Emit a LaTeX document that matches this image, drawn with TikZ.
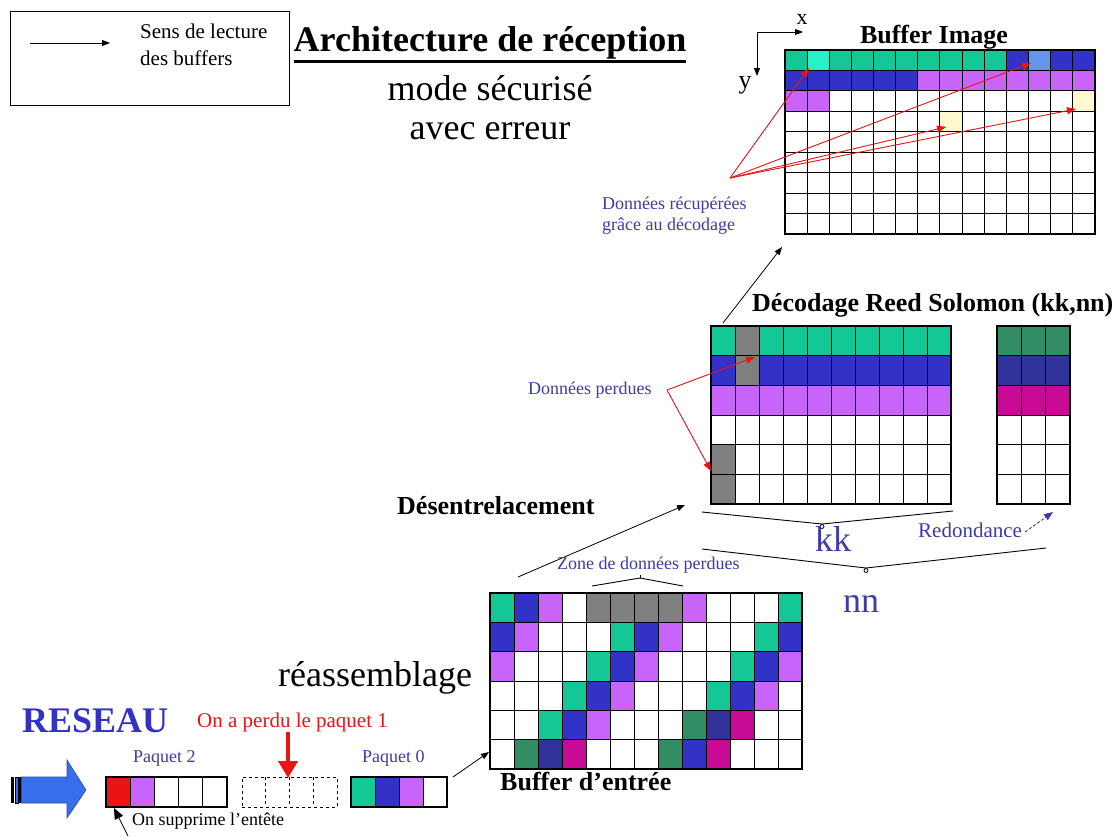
\documentclass[tikz,border=0pt]{standalone}
\usepackage{fontspec}
\setmainfont{Liberation Serif}
\usetikzlibrary{arrows.meta}

\definecolor{cgreen}{RGB}{20,200,150}
\definecolor{caqua}{RGB}{40,240,200}
\definecolor{cblue}{RGB}{50,50,200}
\definecolor{clblue}{RGB}{100,150,235}
\definecolor{cpurple}{RGB}{200,100,250}
\definecolor{cgray}{RGB}{128,128,128}
\definecolor{cdgreen}{RGB}{50,140,100}
\definecolor{cdblue}{RGB}{50,50,155}
\definecolor{cmagenta}{RGB}{200,10,150}
\definecolor{cpale}{RGB}{255,250,205}
\definecolor{txtblue}{RGB}{60,60,170}
\definecolor{cred}{RGB}{235,20,20}
\definecolor{arrowblue}{RGB}{55,110,235}

\newcommand{\setfs}[1]{\fontsize{#1}{#1}\selectfont}
% one coloured cell of the current grid
\newcommand{\cellat}[3]{\fill[#3] ({\gX+#1*\gW},{\gY+#2*\gH}) rectangle ++(\gW,\gH);}
\newcommand{\paint}[1]{\foreach \cc/\rr/\colr in {#1}{\cellat{\cc}{\rr}{\colr}}}
% inner lines and thick frame of the current grid
\newcommand{\cellgrid}[3]{%
  \pgfmathtruncatemacro\ncm{#2-1}%
  \foreach \i in {1,...,\ncm} \draw[cellline] ({\gX+\i*\gW},\gY) -- ++(0,{#3*\gH});
  \ifnum#3>1 \pgfmathtruncatemacro\nrm{#3-1}%
    \foreach \j in {1,...,\nrm} \draw[cellline] (\gX,{\gY+\j*\gH}) -- ++({#2*\gW},0);\fi
  \node[frame, minimum width={#2*\gW}, minimum height={#3*\gH}, anchor=north west] (#1) at (\gX,\gY) {};
}

\tikzset{
  cellline/.style={black, line width=1pt},
  frame/.style={draw=black, line width=2.4pt, inner sep=0pt, outer sep=0pt},
  txt/.style={inner sep=0pt, anchor=west},
  lbl/.style={txt, text=txtblue, font=\setfs{18}},
  redarrow/.style={draw=cred, line width=0.9pt, -{Triangle[length=9pt,width=7pt]}},
  blackarrow/.style={draw=black, line width=0.8pt, -{Triangle[length=8pt,width=6pt]}},
  brace/.style={draw=black, line width=0.9pt},
}

\begin{document}
\begin{tikzpicture}[x=1pt,y=-1pt]
\useasboundingbox[fill=white] (0,0) rectangle (1119,836);

% ---------- legend ----------
\node[draw=black, line width=1pt, minimum width=279, minimum height=94, anchor=north west, inner sep=0pt] (legend) at (10,11) {};
\coordinate (lgA) at (30,43);
\coordinate (lgB) at (110,43);
\draw[blackarrow] (lgA) -- (lgB);
\node[txt, font=\setfs{21}] (lgt1) at (140,31) {Sens de lecture};
\node[txt, font=\setfs{21}] (lgt2) at (140,58) {des buffers};

% ---------- title ----------
\node[inner sep=0pt, font=\bfseries\setfs{36}] (title) at (490,43) {Architecture de réception};
\draw[line width=2.5pt] ([yshift=-2pt]title.south west) -- ([yshift=-2pt]title.south east);
\node[inner sep=0pt, font=\setfs{36}] (mode) at (490,88) {mode sécurisé};
\node[inner sep=0pt, font=\setfs{36}] (err) at (490,131) {avec erreur};

% ---------- image buffer ----------
\def\gX{785}\def\gY{50}\def\gW{22.14}\def\gH{20.44}
\paint{0/0/cgreen,1/0/caqua,2/0/cgreen,3/0/cgreen,4/0/cgreen,5/0/cgreen,6/0/cgreen,7/0/cgreen,8/0/cgreen,9/0/cgreen,
       10/0/cblue,11/0/clblue,12/0/cblue,13/0/cblue,
       0/1/cblue,1/1/cblue,2/1/cblue,3/1/cblue,4/1/cblue,5/1/cblue,
       6/1/cpurple,7/1/cpurple,8/1/cpurple,9/1/cpurple,10/1/cpurple,11/1/cpurple,12/1/cpurple,13/1/cpurple,
       0/2/cpurple,1/2/cpurple,13/2/cpale,7/3/cpale}
\cellgrid{imgbuf}{14}{9}
\node[inner sep=0pt, font=\bfseries\setfs{26}] (imgtitle) at (934,37) {Buffer Image};

% axes
\coordinate (ax0) at (757,32);
\coordinate (axx) at (803,32);
\coordinate (axy) at (757,76);
\draw[blackarrow] (ax0) -- (axx);
\draw[blackarrow] (ax0) -- (axy);
\node[inner sep=0pt, font=\setfs{22}] (xl) at (802,19) {x};
\node[inner sep=0pt, font=\setfs{26}] (yl) at (745,85) {y};

% recovered data
\coordinate (rec) at (730,178);
\coordinate (recA) at (809,68);
\coordinate (recB) at (1031,63);
\coordinate (recC) at (946,127);
\coordinate (recD) at (1076,109);
\foreach \t in {recA,recB,recC,recD} \draw[redarrow] (rec) -- (\t);
\node[lbl] (reclbl1) at (602,205) {Données récupérées};
\node[lbl] (reclbl2) at (602,226) {grâce au décodage};

% ---------- Reed Solomon decoding ----------
\def\gX{711}\def\gY{326}\def\gW{24}\def\gH{29.67}
\paint{0/0/cgreen,1/0/cgray,2/0/cgreen,3/0/cgreen,4/0/cgreen,5/0/cgreen,6/0/cgreen,7/0/cgreen,8/0/cgreen,9/0/cgreen,
       0/1/cblue,1/1/cgray,2/1/cblue,3/1/cblue,4/1/cblue,5/1/cblue,6/1/cblue,7/1/cblue,8/1/cblue,9/1/cblue,
       0/2/cpurple,1/2/cpurple,2/2/cpurple,3/2/cpurple,4/2/cpurple,5/2/cpurple,6/2/cpurple,7/2/cpurple,8/2/cpurple,9/2/cpurple,
       0/4/cgray,0/5/cgray}
\cellgrid{rsdata}{10}{6}
\def\gX{997}\def\gY{326}\def\gW{24.33}\def\gH{29.67}
\paint{0/0/cdgreen,1/0/cdgreen,2/0/cdgreen,0/1/cdblue,1/1/cdblue,2/1/cdblue,0/2/cmagenta,1/2/cmagenta,2/2/cmagenta}
\cellgrid{rsred}{3}{6}
\node[txt, font=\bfseries\setfs{26}] (rstitle) at (752,305) {Décodage Reed Solomon (kk,nn)};

\coordinate (rsout) at (723,323);
\coordinate (imgin) at (782,247);
\draw[blackarrow] (rsout) -- (imgin);

% lost data
\node[lbl] (lostlbl) at (528,390) {Données perdues};
\coordinate (lost) at (667,390);
\coordinate (lostA) at (755,357);
\coordinate (lostB) at (711,471);
\draw[redarrow] (lost) -- (lostA);
\draw[redarrow] (lost) -- (lostB);

% braces kk / nn
\coordinate (kkL) at (702,512);
\coordinate (kkM) at (822,524);
\coordinate (kkR) at (953,511);
\draw[brace] (kkL) -- (kkM) -- (kkR);
\draw[line width=0.8pt] ([yshift=-2.5pt]kkM) circle (2);
\node[inner sep=0pt, text=txtblue, font=\setfs{36}] (kk) at (833,539) {kk};
\coordinate (nnL) at (702,549);
\coordinate (nnM) at (866,568);
\coordinate (nnR) at (1046,548);
\draw[brace] (nnL) -- (nnM) -- (nnR);
\draw[line width=0.8pt] ([yshift=-2.5pt]nnM) circle (2);
\node[inner sep=0pt, text=txtblue, font=\setfs{36}] (nn) at (861,604) {nn};

\node[txt, text=txtblue, font=\setfs{21}] (redlbl) at (918,530) {Redondance};
\coordinate (redA) at (1025,532);
\coordinate (redB) at (1053,512);
\draw[draw=txtblue, line width=0.9pt, densely dashed, -{Triangle[length=9pt,width=7pt]}] (redA) -- (redB);

% de-interleaving
\node[txt, font=\bfseries\setfs{26}] (deint) at (397,506) {Désentrelacement};
\coordinate (inout) at (518,577);
\coordinate (rsin) at (685,505);
\draw[blackarrow] (inout) -- (rsin);

% ---------- input buffer ----------
\def\gX{490}\def\gY{593}\def\gW{24}\def\gH{29.33}
\paint{0/0/cgreen,1/0/cblue,2/0/cpurple,4/0/cgray,5/0/cgray,6/0/cgray,7/0/cgray,8/0/cpurple,12/0/cgreen,
       0/1/cblue,1/1/cpurple,5/1/cgreen,6/1/cblue,7/1/cpurple,11/1/cgreen,12/1/cblue,
       0/2/cpurple,4/2/cgreen,5/2/cblue,6/2/cpurple,10/2/cgreen,11/2/cblue,12/2/cpurple,
       3/3/cgreen,4/3/cblue,5/3/cpurple,9/3/cgreen,10/3/cblue,11/3/cpurple,
       2/4/cgreen,3/4/cblue,4/4/cpurple,8/4/cdgreen,9/4/cdblue,10/4/cmagenta,
       1/5/cdgreen,2/5/cdblue,3/5/cmagenta,7/5/cdgreen,8/5/cblue,9/5/cmagenta}
\cellgrid{inbuf}{13}{6}
\node[txt, font=\bfseries\setfs{26}] (inlbl) at (500,781) {Buffer d’entrée};

\node[txt, text=txtblue, font=\setfs{18}] (zonelbl) at (557,565) {Zone de données perdues};
\coordinate (zL) at (592,586);
\coordinate (zM) at (640,578);
\coordinate (zR) at (683,586);
\draw[brace] (zL) -- (zM) -- (zR);
\draw[brace] (zM) -- ++(0,-3);

\node[txt, font=\setfs{36}] (reass) at (278,678) {réassemblage};

% ---------- network side ----------
\node[txt, text=cblue, font=\bfseries\setfs{36}] (net) at (22,721) {RESEAU};

\fill[black] (11,777) rectangle (14,803);
\filldraw[fill=arrowblue, draw=black, line width=0.6pt] (15,777) rectangle (18.5,803);
\fill[black] (18.5,777) rectangle (21.5,803);
\filldraw[fill=arrowblue, draw=arrowblue!70!black, line width=0.6pt]
  (21.5,777) -- (67,777) -- (67,760) -- (86,790) -- (67,818) -- (67,803) -- (21.5,803) -- cycle;

% packet 2
\def\gX{106}\def\gY{777}\def\gW{24.2}\def\gH{30}
\paint{0/0/cred,1/0/cpurple}
\cellgrid{pk2}{5}{1}
\node[txt, text=txtblue, font=\setfs{18}] (pk2lbl) at (133,758) {Paquet 2};

% lost packet 1
\node[draw=black, dashed, line width=0.8pt, minimum width=95, minimum height=30, inner sep=0pt, anchor=north west] (pk1) at (242,777) {};
\foreach \i in {1,2,3} \draw[black, dashed, line width=0.8pt] ({242+\i*23.75},777) -- ++(0,30);
\node[txt, text=cred, font=\setfs{21}] (pk1lbl) at (197,722) {On a perdu le paquet 1};
\coordinate (pk1A) at (288,732);
\coordinate (pk1B) at (288,778);
\draw[cred, line width=4pt, -{Triangle[length=17pt,width=19pt]}] (pk1A) -- (pk1B);

% packet 0
\def\gX{351}\def\gY{777}\def\gW{24}\def\gH{30}
\paint{0/0/cgreen,1/0/cblue,2/0/cpurple}
\cellgrid{pk0}{4}{1}
\node[txt, text=txtblue, font=\setfs{18}] (pk0lbl) at (362,758) {Paquet 0};
\coordinate (pk0out) at (453,777);
\coordinate (inbufin) at (489,752);
\draw[blackarrow] (pk0out) -- (inbufin);

% header removal
\node[txt, font=\setfs{18}] (hdrlbl) at (132,821) {On supprime l’entête};
\coordinate (hdrA) at (128,836);
\coordinate (hdrB) at (114,808);
\draw[draw=black, line width=0.8pt, -{Triangle[length=11pt,width=9pt]}] (hdrA) -- (hdrB);

\end{tikzpicture}
\end{document}
